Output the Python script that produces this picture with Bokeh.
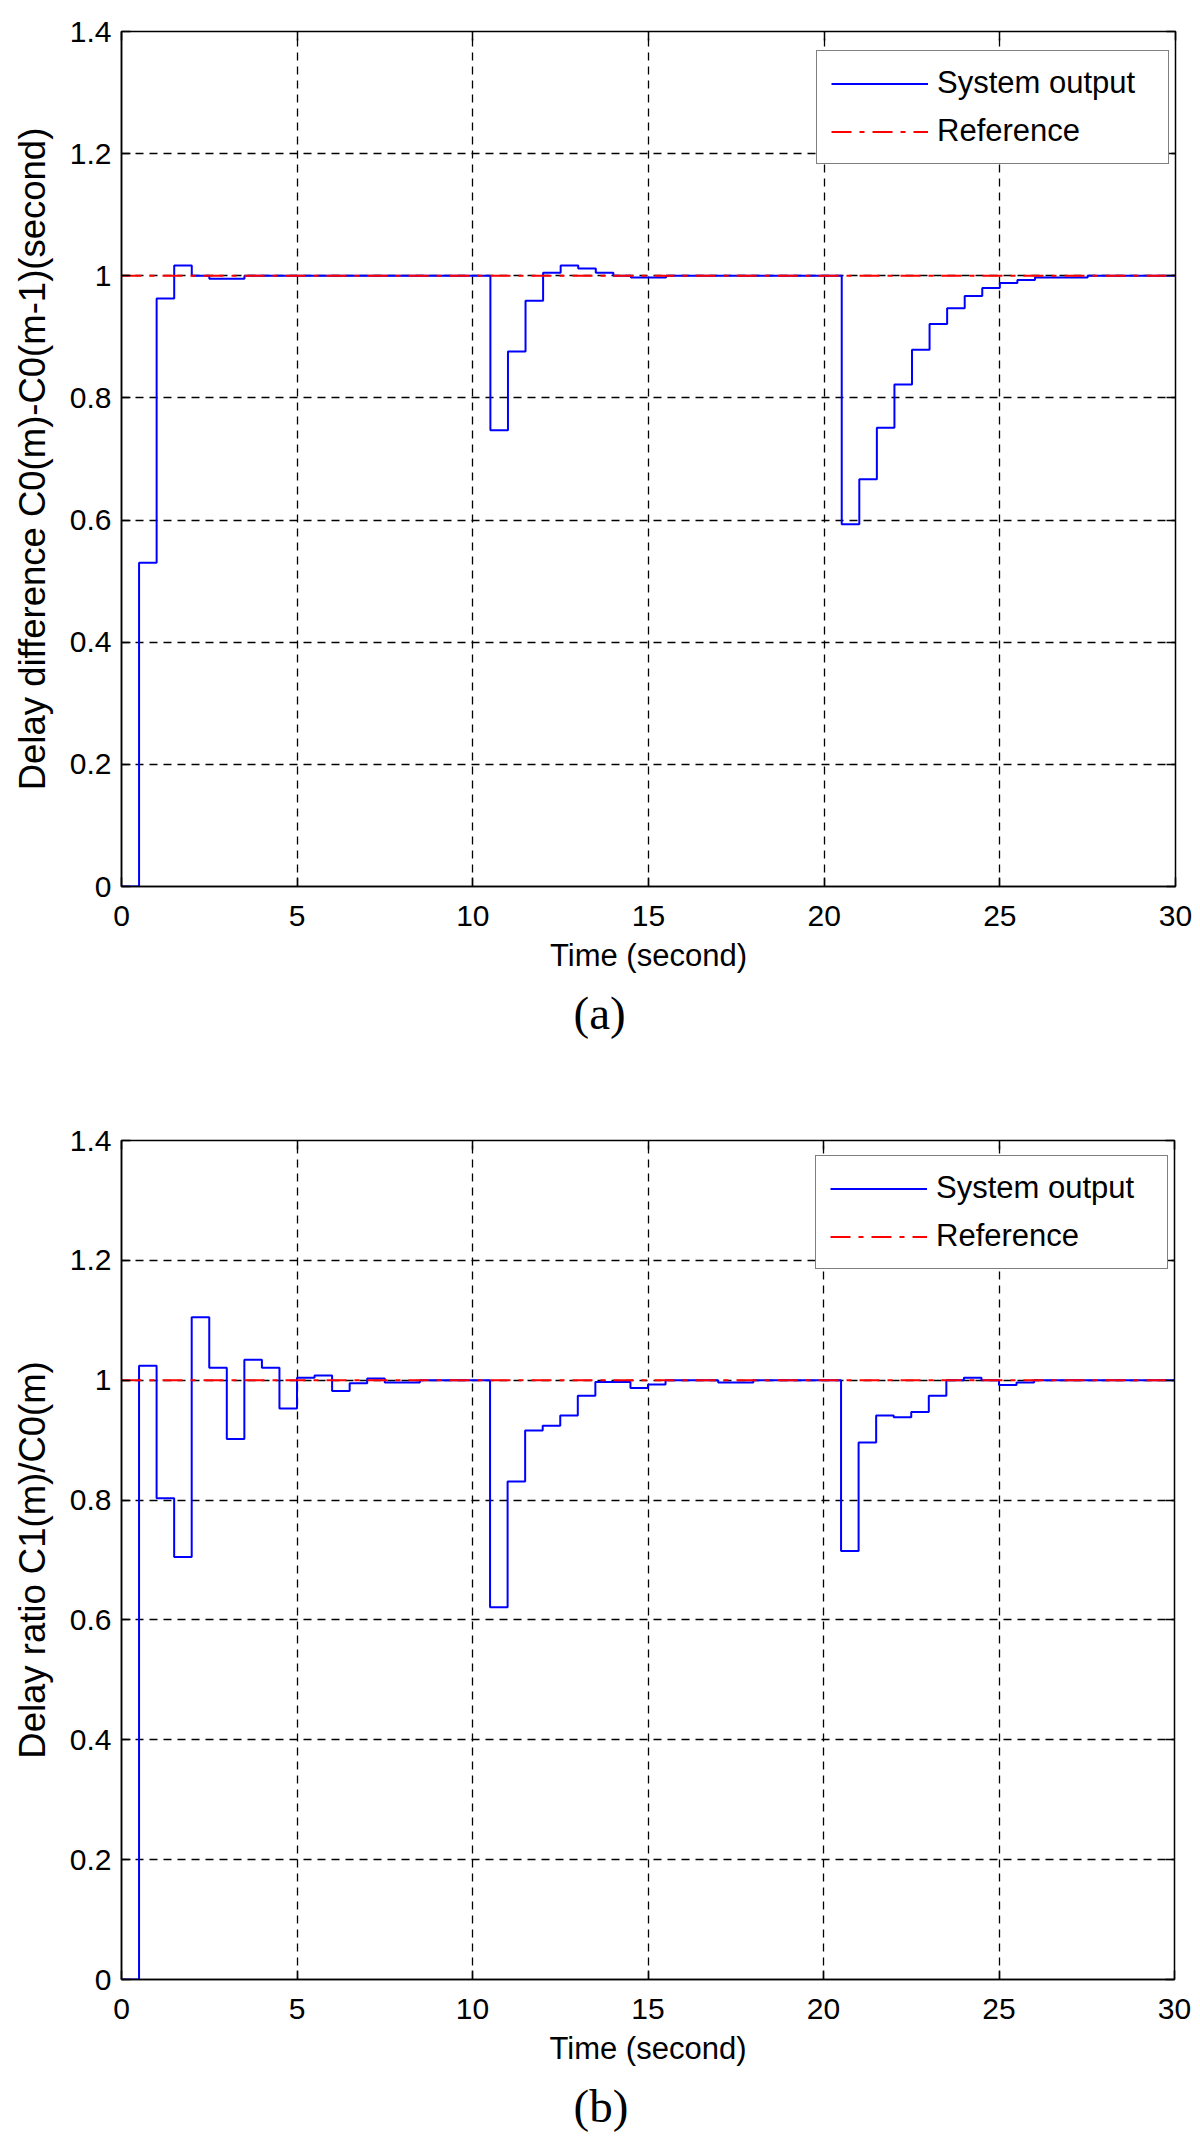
from bokeh.plotting import figure
from bokeh.models import (FixedTicker, CustomJSTickFormatter, LinearAxis, Title,
                          Legend, LegendItem, Range1d)
from bokeh.layouts import column
from bokeh.embed import file_html
from bokeh.resources import INLINE

# ---------------- data ----------------
t_a = [0, 0.5, 1.0, 1.5, 2.0, 2.5, 3.5,
       10.5, 11.0, 11.5, 12.0, 12.5, 13.0, 13.5, 14.0, 14.5, 15.5,
       20.5, 21.0, 21.5, 22.0, 22.5, 23.0, 23.5, 24.0, 24.5, 25.0, 25.5, 26.0, 27.5,
       30.0]
v_a = [0, 0.53, 0.963, 1.017, 1.0, 0.995, 1.0,
       0.747, 0.876, 0.959, 1.005, 1.017, 1.012, 1.005, 1.0, 0.997, 1.0,
       0.593, 0.667, 0.751, 0.822, 0.879, 0.921, 0.947, 0.967, 0.980, 0.988, 0.993, 0.997, 1.0,
       1.0]

t_b = [0, 0.5, 1.0, 1.5, 2.0, 2.5, 3.0, 3.5, 4.0, 4.5,
       5.0, 5.5, 6.0, 6.5, 7.0, 7.5, 8.5,
       10.5, 11.0, 11.5, 12.0, 12.5, 13.0, 13.5,
       14.5, 15.0, 15.5, 17.0, 18.0,
       20.5, 21.0, 21.5, 22.0, 22.5, 23.0, 23.5, 24.0, 24.5, 25.0, 25.5, 26.0,
       30.0]
v_b = [0, 1.024, 0.803, 0.705, 1.105, 1.021, 0.902, 1.034, 1.021, 0.953,
       1.004, 1.008, 0.982, 0.995, 1.003, 0.996, 1.0,
       0.621, 0.831, 0.916, 0.924, 0.941, 0.974, 0.997,
       0.987, 0.993, 1.0, 0.996, 1.0,
       0.715, 0.896, 0.941, 0.938, 0.947, 0.974, 1.0, 1.004, 1.0, 0.992, 0.996, 1.0,
       1.0]

ref_t = [0, 30]
ref_v = [1.0, 1.0]

x_ticks = [0, 5, 10, 15, 20, 25, 30]
y_ticks = [0, 0.2, 0.4, 0.6, 0.8, 1.0, 1.2, 1.4]

series_names = ["System output", "Reference"]
ylabels = ["Delay difference C0(m)-C0(m-1)(second)", "Delay ratio C1(m)/C0(m)"]
xlabel = "Time (second)"
panel_tags = ["(a)", "(b)"]

SANS = "Liberation Sans"
SERIF = "Liberation Serif"
FS = "30px"


def make_panel(t, v, ylabel, tag, fw, fh, bl, bt, br, bb, leg_x, leg_y):
    p = figure(frame_width=fw, frame_height=fh,
               min_border_left=bl, min_border_top=bt, min_border_right=br,
               min_border_bottom=bb,
               x_range=Range1d(0, 30), y_range=Range1d(0, 1.4),
               output_backend="svg", toolbar_location=None,
               background_fill_color="white", border_fill_color="white")
    p.outline_line_color = "black"
    p.outline_line_width = 1.5

    fmt = CustomJSTickFormatter(code="return Number(tick.toFixed(1)).toString();")
    for ax, ticks in ((p.xaxis[0], x_ticks), (p.yaxis[0], y_ticks)):
        ax.ticker = FixedTicker(ticks=ticks)
        ax.formatter = fmt
        ax.major_tick_in = 9
        ax.major_tick_out = 0
        ax.minor_tick_line_color = None
        ax.axis_line_width = 1.5
        ax.major_tick_line_width = 1.5
        ax.major_label_text_font = SANS
        ax.major_label_text_font_size = FS
        ax.major_label_text_color = "black"
        ax.axis_label_text_font = SANS
        ax.axis_label_text_font_style = "normal"
        ax.axis_label_text_color = "black"
    p.xaxis[0].axis_label = xlabel
    p.xaxis[0].axis_label_text_font_size = "31px"
    p.xaxis[0].major_label_standoff = 19
    p.xaxis[0].axis_label_standoff = 9
    p.yaxis[0].axis_label = ylabel
    p.yaxis[0].axis_label_text_font_size = "36.5px"
    p.yaxis[0].major_label_standoff = 10
    p.yaxis[0].axis_label_standoff = 14

    # mirrored ticks on top / right (MATLAB box style)
    blank = CustomJSTickFormatter(code="return '';")
    top = LinearAxis(ticker=FixedTicker(ticks=x_ticks), formatter=blank,
                     major_tick_in=9, major_tick_out=0, minor_tick_line_color=None,
                     axis_line_color=None, major_tick_line_width=1.5,
                     major_label_standoff=0, major_label_text_font_size="1px")
    right = LinearAxis(ticker=FixedTicker(ticks=y_ticks), formatter=blank,
                       major_tick_in=9, major_tick_out=0, minor_tick_line_color=None,
                       axis_line_color=None, major_tick_line_width=1.5,
                       major_label_standoff=0, major_label_text_font_size="1px")
    p.add_layout(top, "above")
    p.add_layout(right, "right")

    for g in (p.xgrid[0], p.ygrid[0]):
        g.grid_line_color = "black"
        g.grid_line_dash = "8 6"
        g.grid_line_width = 1.3
        g.grid_line_alpha = 1.0

    r_sys = p.step(t, v, mode="after", line_color="#0000ff", line_width=2)
    r_ref = p.line(ref_t, ref_v, line_color="#ff0000", line_width=2,
                   line_dash="20 8 5 8")

    legend = Legend(items=[LegendItem(label=series_names[0], renderers=[r_sys]),
                           LegendItem(label=series_names[1], renderers=[r_ref])],
                    location=(leg_x, leg_y))
    legend.label_text_font = SANS
    legend.label_text_font_size = "31px"
    legend.label_text_color = "black"
    legend.glyph_width = 97
    legend.glyph_height = 35
    legend.label_height = 35
    legend.label_width = 217
    legend.label_standoff = 9
    legend.padding = 14
    legend.spacing = 12
    legend.margin = 0
    legend.border_line_color = "black"
    legend.border_line_width = 1.5
    legend.background_fill_color = "white"
    legend.background_fill_alpha = 1.0
    p.add_layout(legend)

    ttl = Title(text=tag, align="left", offset=452, text_font=SERIF,
                text_font_size="47px", text_font_style="normal",
                text_color="black", standoff=18)
    p.add_layout(ttl, "below")
    return p


pa = make_panel(t_a, v_a, ylabels[0], panel_tags[0],
                fw=1054, fh=855, bl=120, bt=31, br=18, bb=174,
                leg_x=695, leg_y=722)
pb = make_panel(t_b, v_b, ylabels[1], panel_tags[1],
                fw=1053, fh=839, bl=121, bt=80, br=18, bb=160,
                leg_x=694, leg_y=710)

layout = column(pa, pb, spacing=0)
open("out.html", "w").write(file_html(layout, INLINE))
